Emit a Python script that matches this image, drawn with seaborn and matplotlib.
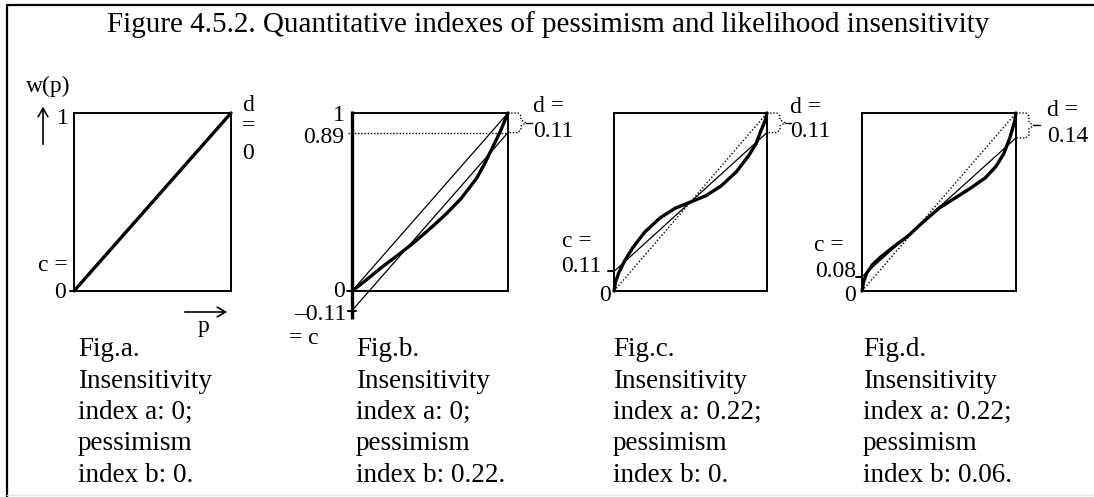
import matplotlib
matplotlib.use("Agg")
import matplotlib.pyplot as plt
from matplotlib.lines import Line2D
from matplotlib.patches import FancyArrowPatch
import pandas as pd
import seaborn as sns

# Indexes of each panel
panels = ["a", "b", "c", "d"]
insensitivity_a = [0, 0, 0.22, 0.22]
pessimism_b = [0, 0.22, 0, 0.06]
c_index = [0, -0.11, 0.11, 0.08]
d_index = [0, 0.11, 0.11, 0.14]

# Weighting functions w(p)
p_a = [0.0, 1.0]
w_a = [0.0, 1.0]

p_b = [0.00, 0.05, 0.10, 0.20, 0.30, 0.40, 0.50, 0.60, 0.70, 0.80, 0.85, 0.90, 0.95, 1.00]
w_b = [0.00, 0.033, 0.068, 0.14, 0.205, 0.275, 0.35, 0.43, 0.52, 0.635, 0.715, 0.805, 0.895, 1.00]

p_c = [0.00, 0.01, 0.03, 0.07, 0.12, 0.20, 0.30, 0.40, 0.50, 0.60, 0.70, 0.80, 0.88, 0.93, 0.96, 0.985, 1.00]
w_c = [0.00, 0.05, 0.10, 0.17, 0.24, 0.33, 0.41, 0.465, 0.50, 0.535, 0.59, 0.67, 0.76, 0.83, 0.90, 0.95, 1.00]

p_d = [0.00, 0.01, 0.03, 0.07, 0.12, 0.20, 0.30, 0.40, 0.50, 0.60, 0.70, 0.80, 0.87, 0.92, 0.96, 0.99, 1.00]
w_d = [0.00, 0.05, 0.10, 0.15, 0.19, 0.245, 0.31, 0.39, 0.465, 0.52, 0.575, 0.635, 0.70, 0.77, 0.86, 0.95, 1.00]

curves = [(p_a, w_a), (p_b, w_b), (p_c, w_c), (p_d, w_d)]

title = "Figure 4.5.2. Quantitative indexes of pessimism and likelihood insensitivity"

sns.set_theme(style="white")
plt.rcParams["font.family"] = ["Liberation Serif", "DejaVu Serif"]

W, H = 1094, 497
fig = plt.figure(figsize=(W / 100, H / 100), dpi=100)
fig.patch.set_facecolor("white")

FS_T = 21   # title size
FS = 19.5   # caption size
FS2 = 17    # axis annotation size
K = "black"


def fx(x):
    return x / W


def fy(y):
    return 1 - y / H


def put(x, y, s, ha="left", size=FS2):
    fig.text(fx(x), fy(y), s, ha=ha, va="baseline", fontsize=size, color=K)


def fmt(v):
    return f"{v:g}".replace("-", "\u2013")


# outer frame
fig.add_artist(Line2D([fx(7), fx(7)], [fy(5), fy(497)], color=K, lw=1.6))
fig.add_artist(Line2D([fx(7), fx(1094)], [fy(5), fy(5)], color=K, lw=1.6))
fig.add_artist(Line2D([fx(7), fx(1094)], [fy(495), fy(495)], color="#e4e4e4", lw=1.0))

put(548, 32, title, ha="center", size=FS_T)

TOP, BOT = 113, 291
boxes = [(74, 231), (352, 508), (614, 767), (862, 1016)]
axes = []

for i, (x0, x1) in enumerate(boxes):
    ax = fig.add_axes([fx(x0), fy(BOT), (x1 - x0) / W, (BOT - TOP) / H])
    ax.set_xlim(0, 1)
    ax.set_ylim(0, 1)
    ax.set_xticks([])
    ax.set_yticks([])
    ax.patch.set_alpha(0)
    for sp in ax.spines.values():
        sp.set_color(K)
        sp.set_linewidth(1.4)
    axes.append(ax)

    wpx = x1 - x0
    hpx = BOT - TOP
    c, d = c_index[i], d_index[i]

    # weighting function
    p, w = curves[i]
    sns.lineplot(data=pd.DataFrame({"p": p, "w": w}), x="p", y="w", ax=ax,
                 color=K, lw=2.4, sort=False, estimator=None, clip_on=False,
                 solid_capstyle="round", solid_joinstyle="round")

    if i >= 1:
        # best-fitting line with intercept c and end point 1 - d
        sns.lineplot(data=pd.DataFrame({"p": [0, 1], "w": [c, 1 - d]}), x="p", y="w",
                     ax=ax, color=K, lw=0.9, estimator=None, clip_on=False)
        # diagonal
        sns.lineplot(data=pd.DataFrame({"p": [0, 1], "w": [0, 1]}), x="p", y="w",
                     ax=ax, color=K, lw=0.9 if i == 1 else 1.0, estimator=None,
                     linestyle="-" if i == 1 else (0, (1, 1.5)))
        # dotted brace marking d at p = 1
        top, bot = 1.0, 1 - d
        mid = (top + bot) / 2
        bx = [0, 10, 13, 13, 18, 13, 13, 10, 0]
        by = [top, top, top - 3 / hpx, mid + 3 / hpx, mid, mid - 3 / hpx, bot + 3 / hpx, bot, bot]
        ax.plot([1 + v / wpx for v in bx], by, color=K, lw=1.0,
                linestyle=(0, (1, 1.3)), clip_on=False)
        ax.plot([1 + 18 / wpx, 1 + 24 / wpx], [mid, mid], color=K, lw=1.0, clip_on=False)
    ax.set_xlabel("")
    ax.set_ylabel("")

# ---- panel a ----
ax = axes[0]
ax.plot([-4 / 157, 0], [0, 0], color=K, lw=1.4, clip_on=False)
put(26, 92, "w(p)")
fig.add_artist(FancyArrowPatch(
    (fx(43), fy(147)), (fx(43), fy(104)), transform=fig.transFigure,
    arrowstyle="->,head_length=6,head_width=3.5", color=K, lw=1.2,
    mutation_scale=1))
fig.add_artist(FancyArrowPatch(
    (fx(182), fy(312)), (fx(230), fy(312)), transform=fig.transFigure,
    arrowstyle="->,head_length=6,head_width=3.5", color=K, lw=1.2,
    mutation_scale=1))
put(69, 124, "1", ha="right")
put(242, 111, "d")
put(242, 131, "=")
put(242, 159, fmt(d_index[0]))
put(68, 271, "c =", ha="right")
put(66, 298, fmt(c_index[0]), ha="right")
put(204, 332, "p", ha="center")

# ---- panel b ----
ax = axes[1]
wb = 156
ax.plot([0, 0], [1.012, -0.157], color=K, lw=2.4, clip_on=False, solid_capstyle="butt")
ax.plot([-4 / wb, 4 / wb], [c_index[1], c_index[1]], color=K, lw=1.4, clip_on=False)
ax.plot([-5 / wb, 0], [0, 0], color=K, lw=1.4, clip_on=False)
ax.plot([-4 / wb, 1], [1 - d_index[1], 1 - d_index[1]], color=K, lw=1.0,
        linestyle=(0, (1, 1.3)), clip_on=False)
put(345, 121, "1", ha="right")
put(344, 143, fmt(1 - d_index[1]), ha="right")
put(345, 297, "0", ha="right")
put(346, 320, fmt(c_index[1]), ha="right")
put(289, 344, "= c")
put(533, 112, "d =")
put(533, 137, fmt(d_index[1]))

# ---- panel c ----
ax = axes[2]
ax.plot([-6 / 153, 0], [c_index[2], c_index[2]], color=K, lw=1.4, clip_on=False)
put(562, 247, "c =")
put(561, 272, fmt(c_index[2]))
put(611, 301, "0", ha="right")
put(790, 113, "d =")
put(790, 137, fmt(d_index[2]))

# ---- panel d ----
ax = axes[3]
ax.plot([-6 / 154, 0], [c_index[3], c_index[3]], color=K, lw=1.4, clip_on=False)
put(844, 251, "c =", ha="right")
put(856, 277, fmt(c_index[3]), ha="right")
put(856, 301, "0", ha="right")
put(1047, 116, "d =")
put(1047, 142, fmt(d_index[3]))

# ---- captions ----
cap_x = [78, 356, 613, 863]
for i, name in enumerate(panels):
    lines = [f"Fig.{name}.", "Insensitivity", f"index a: {fmt(insensitivity_a[i])};",
             "pessimism", f"index b: {fmt(pessimism_b[i])}."]
    for j, s in enumerate(lines):
        put(cap_x[i], 356 + 31.5 * j, s, size=FS)

fig.savefig("out.png", dpi=100, facecolor="white")
